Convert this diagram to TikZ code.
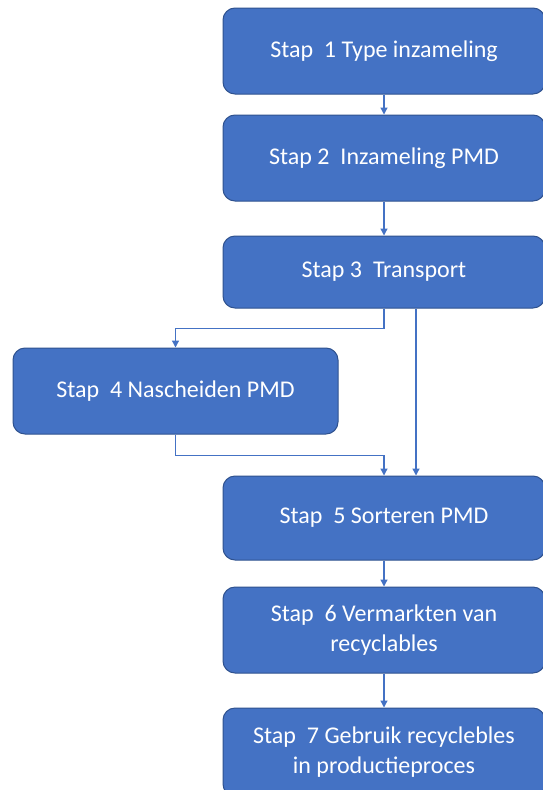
\documentclass[tikz,border=0pt]{standalone}
\usepackage{fontspec}
\setmainfont{Carlito}
\usetikzlibrary{arrows.meta}
\definecolor{boxblue}{HTML}{4472C4}
\definecolor{boxedge}{HTML}{2F528F}
\tikzset{
  stepbox/.style={draw=boxedge, line width=1pt, fill=boxblue, rounded corners=12pt,
    text=white, font=\fontsize{24}{30}\selectfont, align=center, inner sep=0pt},
  conn/.style={draw=boxblue, line width=1.3pt, -{Triangle[width=7pt,length=7pt]}}
}
\begin{document}
\begin{tikzpicture}[x=1pt,y=-1pt]
\useasboundingbox (0,0) rectangle (543,790);
\clip (0,0) rectangle (543,790);
\fill[white] (0,0) rectangle (543,790);
\node[stepbox, minimum width=322pt, minimum height=86pt] (b1) at (384,51) {Stap\ \ 1 Type inzameling};
\node[stepbox, minimum width=322pt, minimum height=86pt] (b2) at (384,158) {Stap 2\ \ Inzameling PMD};
\node[stepbox, minimum width=322pt, minimum height=72pt] (b3) at (384,272) {Stap 3\ \ Transport};
\node[stepbox, minimum width=325pt, minimum height=86pt] (b4) at (175.5,391) {Stap\ \ 4 Nascheiden PMD};
\node[stepbox, minimum width=322pt, minimum height=84pt] (b5) at (384,518) {Stap\ \ 5 Sorteren PMD};
\node[stepbox, minimum width=322pt, minimum height=86pt] (b6) at (384,630) {Stap\ \ 6 Vermarkten van\\recyclables};
\node[stepbox, minimum width=322pt, minimum height=88pt] (b7) at (384,752) {Stap\ \ 7 Gebruik recyclebles\\in productieproces};
\draw[conn] (b1) -- (b2);
\draw[conn] (b2) -- (b3);
\draw[conn] (b3.south) -- ++(0,20) -| (b4.north);
\draw[conn] ([xshift=32pt]b3.south) -- ([xshift=32pt]b5.north);
\draw[conn] (b4.south) -- ++(0,21) -| (b5.north);
\draw[conn] (b5) -- (b6);
\draw[conn] (b6) -- (b7);
\end{tikzpicture}
\end{document}
